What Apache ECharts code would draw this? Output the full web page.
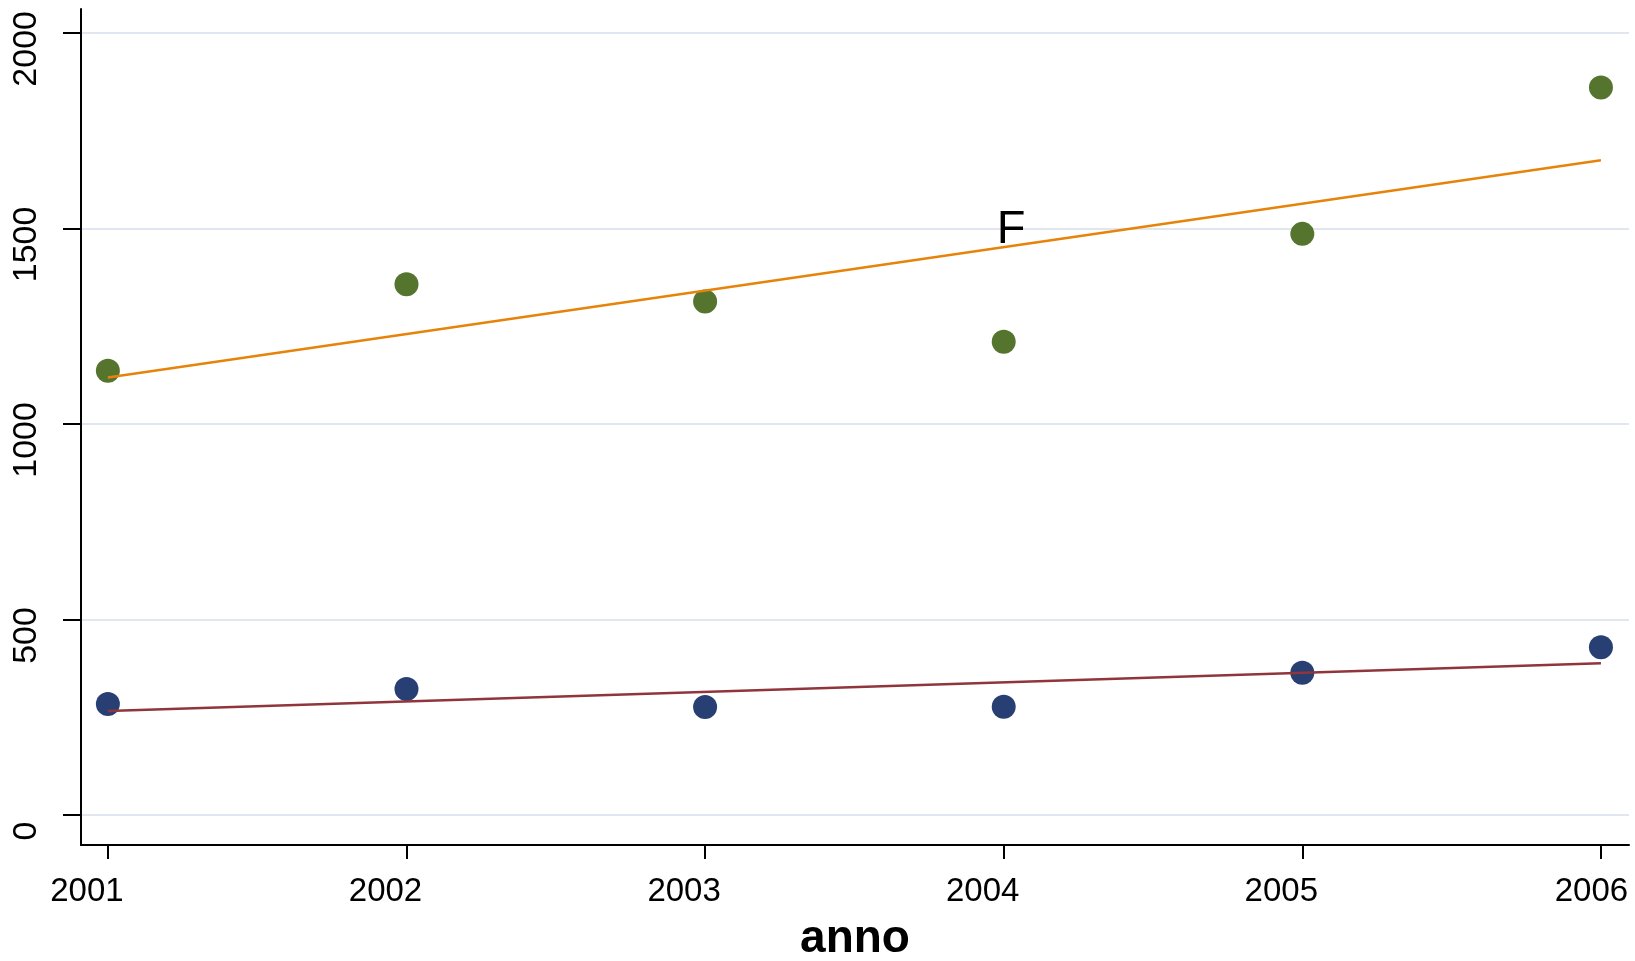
<!DOCTYPE html>
<html>
<head>
<meta charset="utf-8">
<script src="https://cdn.jsdelivr.net/npm/echarts@6/dist/echarts.min.js"></script>
<style>
html,body{margin:0;padding:0;background:#fff;}
#chart{width:1635px;height:961px;}
</style>
</head>
<body>
<div id="chart"></div>
<script>
// ---- data ----
const years = [2001, 2002, 2003, 2004, 2005, 2006];
const fValues = [1136, 1357, 1313, 1210, 1486, 1860];   // green points
const mValues = [284, 322, 276, 277, 364, 429];          // navy points
const fitYears = [2001, 2006];
const fFit = [1119, 1674];                                // orange fitted line ends
const mFit = [266, 388];                                  // maroon fitted line ends
const yTicks = [0, 500, 1000, 1500, 2000];
const xTicks = [2001, 2002, 2003, 2004, 2005, 2006];
const noteText = ['F'];
const notePos = [[2004, 1496]];
const xName = 'anno';

const pairs = (xs, ys) => xs.map((x, i) => [x, ys[i]]);
const FONT = '"Liberation Sans", Arial, sans-serif';
const lastX = xTicks[xTicks.length - 1];

const chart = echarts.init(document.getElementById('chart'), null, {renderer: 'canvas'});
chart.setOption({
  animation: false,
  backgroundColor: '#ffffff',
  grid: {left: 81, right: 6, top: 9, bottom: 116, containLabel: false, outerBoundsMode: 'none'},
  xAxis: {
    type: 'value',
    min: 2000.91, max: 2006.094,
    name: xName,
    nameLocation: 'middle',
    nameGap: 71,
    nameTextStyle: {fontFamily: FONT, fontSize: 46, fontWeight: 'bold', color: '#000'},
    axisLine: {show: true, onZero: false, lineStyle: {color: '#000', width: 2}},
    axisTick: {show: true, length: 14, lineStyle: {color: '#000', width: 2}, customValues: xTicks},
    axisLabel: {show: true, customValues: xTicks, fontFamily: FONT, fontSize: 33, color: '#000', margin: 30,
      formatter: v => (v === lastX ? '{e|' + v + '}' : '{n|' + v + '}'),
      rich: {
        n: {fontFamily: FONT, fontSize: 33, color: '#000', padding: [0, 42, 0, 0]},
        e: {fontFamily: FONT, fontSize: 33, color: '#000', padding: [0, 19, 0, 0]}
      }},
    splitLine: {show: false}
  },
  yAxis: {
    type: 'value',
    min: -76.7, max: 2061,
    axisLine: {show: true, onZero: false, lineStyle: {color: '#000', width: 2}},
    axisTick: {show: true, length: 18, lineStyle: {color: '#000', width: 2}, customValues: yTicks},
    axisLabel: {show: true, customValues: yTicks, rotate: 90, fontFamily: FONT, fontSize: 34, color: '#000', margin: 37,
      padding: [0, 32, 0, 0], formatter: v => String(v)},
    splitLine: {show: true, lineStyle: {color: '#e1e6f0', width: 2}}
  },
  series: [
    {type: 'scatter', data: pairs(years, fValues), symbol: 'circle', symbolSize: 24,
      itemStyle: {color: '#55752f', opacity: 1}, z: 2},
    {type: 'scatter', data: pairs(years, mValues), symbol: 'circle', symbolSize: 24,
      itemStyle: {color: '#283f73', opacity: 1}, z: 2},
    {type: 'line', data: pairs(fitYears, fFit), symbol: 'none', lineStyle: {color: '#e8830a', width: 2.5}, z: 3},
    {type: 'line', data: pairs(fitYears, mFit), symbol: 'none', lineStyle: {color: '#90353b', width: 2.5}, z: 3},
    {type: 'scatter', data: notePos, symbolSize: 0, z: 4, itemStyle: {opacity: 1},
      label: {show: true, position: 'right', distance: -7, formatter: (p) => noteText[p.dataIndex],
        fontFamily: FONT, fontSize: 47, color: '#000', opacity: 1}}
  ]
});
</script>
</body>
</html>
